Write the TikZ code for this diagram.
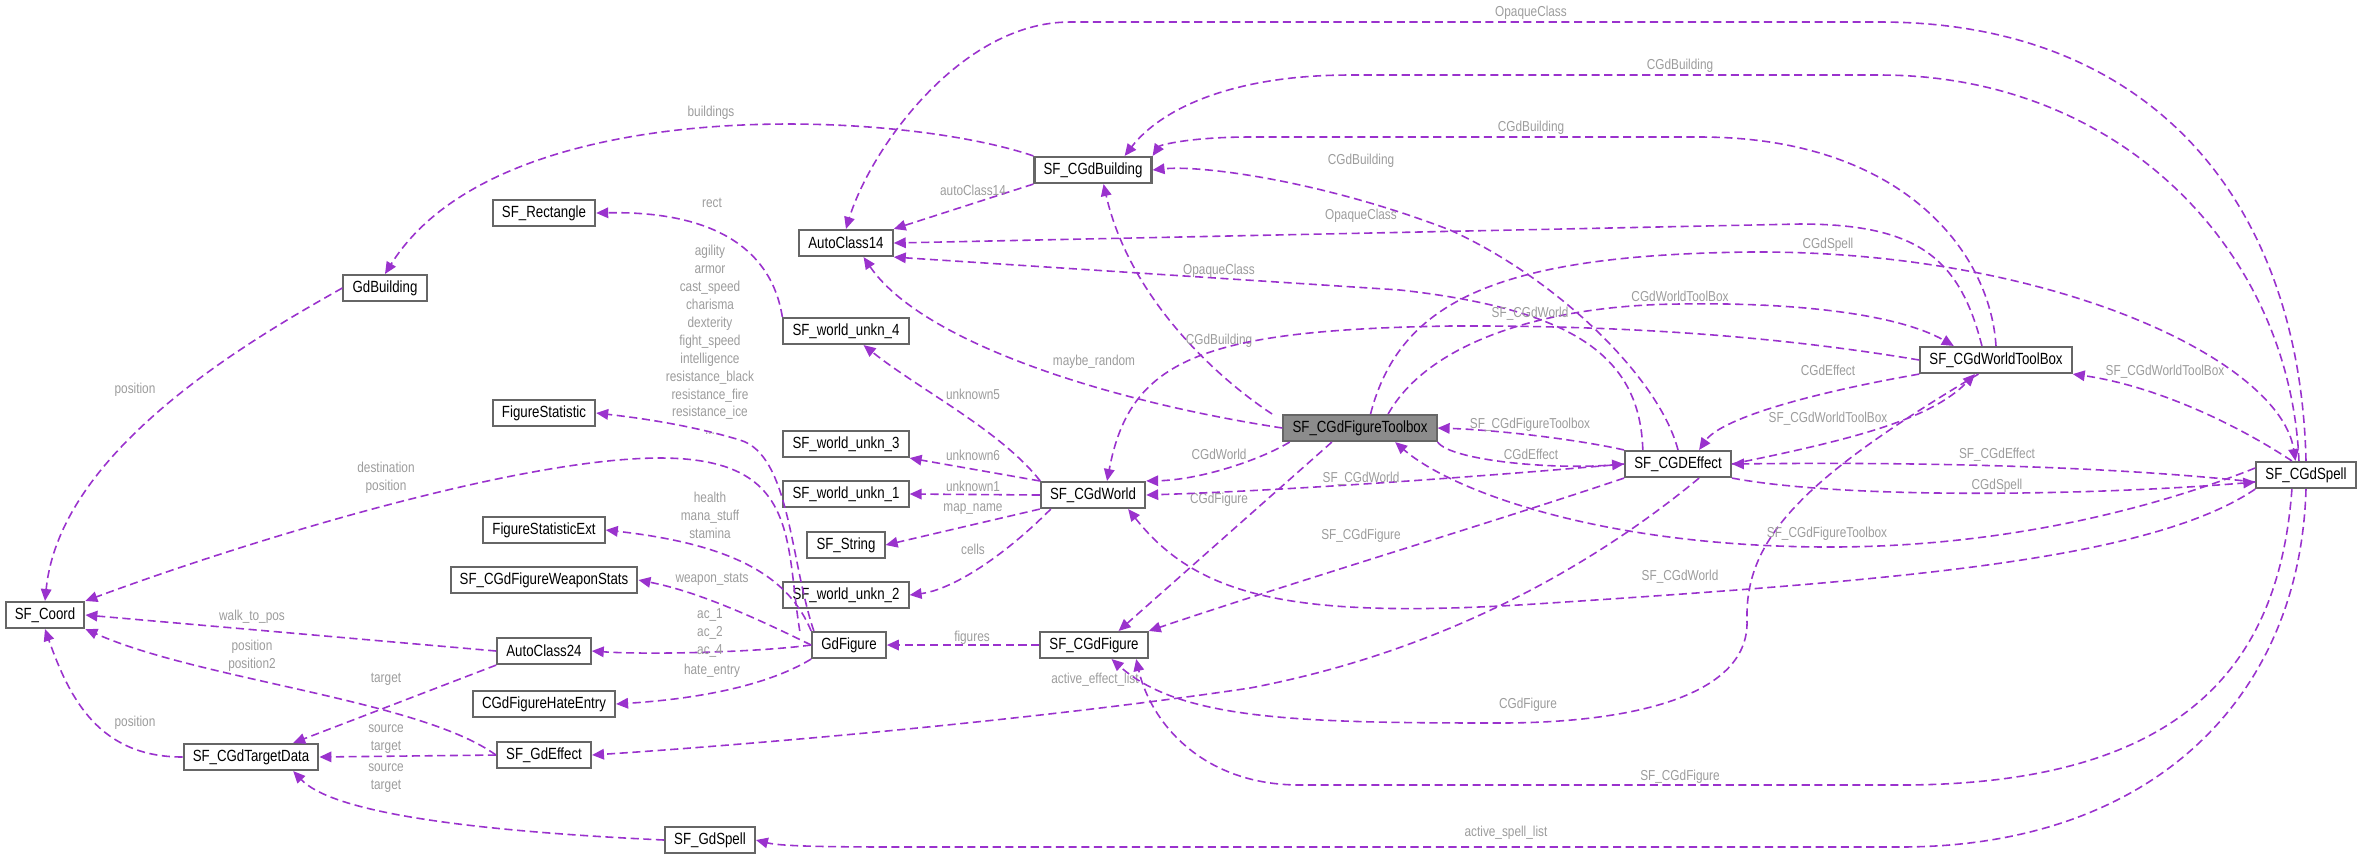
\documentclass[tikz,border=0pt]{standalone}
\usepackage{fontspec}
\setmainfont{Liberation Sans}
\newfontfamily\narrowfont{Liberation Sans}[FakeStretch=0.82]
\usetikzlibrary{arrows.meta}
\definecolor{relcol}{HTML}{9A32CD}
\definecolor{lblcol}{HTML}{9C9C9C}
\begin{document}
\begin{tikzpicture}[x=0.01cm,y=-0.01cm,>={Stealth[length=3.4pt,width=3pt,inset=0pt]},
  class/.style={rectangle,draw=black!60,line width=0.6pt,fill=white,inner xsep=2.6pt,inner ysep=0pt,minimum height=0.26cm,font=\narrowfont\fontsize{4.6}{5}\selectfont},
  rel/.style={->,draw=relcol,line width=0.45pt,dash pattern=on 2.3pt off 1.3pt},
  lbl/.style={text=lblcol,font=\narrowfont\fontsize{4.1}{5.1}\selectfont,align=center,inner sep=0pt}]
\useasboundingbox (0,0) rectangle (2362,859);
% classes
\node[class] (coord)   at (45,615)   {SF\_Coord};
\node[class] (tgt)     at (251,757)  {SF\_CGdTargetData};
\node[class] (gdbld)   at (385,288)  {GdBuilding};
\node[class] (rect)    at (544,213)  {SF\_Rectangle};
\node[class] (fstat)   at (544,413)  {FigureStatistic};
\node[class] (fstatx)  at (544,530)  {FigureStatisticExt};
\node[class] (wstats)  at (544,580)  {SF\_CGdFigureWeaponStats};
\node[class] (ac24)    at (544,651)  {AutoClass24};
\node[class] (hate)    at (544,704)  {CGdFigureHateEntry};
\node[class] (gdeff)   at (544,755)  {SF\_GdEffect};
\node[class] (gdspell) at (710,840)  {SF\_GdSpell};
\node[class] (ac14)    at (846,243)  {AutoClass14};
\node[class] (unkn4)   at (846,331)  {SF\_world\_unkn\_4};
\node[class] (unkn3)   at (846,444)  {SF\_world\_unkn\_3};
\node[class] (unkn1)   at (846,494)  {SF\_world\_unkn\_1};
\node[class] (sfstr)   at (846,545)  {SF\_String};
\node[class] (unkn2)   at (846,595)  {SF\_world\_unkn\_2};
\node[class] (gdfig)   at (849,645)  {GdFigure};
\node[class] (bld)     at (1093,170) {SF\_CGdBuilding};
\node[class] (world)   at (1093,495) {SF\_CGdWorld};
\node[class] (fig)     at (1094,645) {SF\_CGdFigure};
\node[class,fill=black!45] (ftb) at (1360,428) {SF\_CGdFigureToolbox};
\node[class] (eff)     at (1678,464) {SF\_CGDEffect};
\node[class] (wtb)     at (1996,360) {SF\_CGdWorldToolBox};
\node[class] (spell)   at (2306,475) {SF\_CGdSpell};
% left part
\draw[rel] (gdbld.west) .. controls (250,340) and (60,450) .. (coord.north) node[lbl,at={(135,390)}] {position};
\draw[rel] (bld.north west) .. controls (900,110) and (500,90) .. (gdbld.north) node[lbl,at={(711,113)}] {buildings};
\draw[rel] (bld.south west) -- (ac14.north east) node[lbl,at={(973,190)}] {autoClass14};
\draw[rel] (unkn4.north west) .. controls (770,240) and (700,211) .. (rect.east) node[lbl,at={(712,203)}] {rect};
\draw[rel] ([xshift=-10pt]gdfig.north) .. controls (790,560) and (790,455) .. (740,440) .. controls (690,425) and (640,418) .. (fstat.east)
  node[lbl,at={(710,340)}] {agility\\armor\\cast\_speed\\charisma\\dexterity\\fight\_speed\\intelligence\\resistance\_black\\resistance\_fire\\resistance\_ice\\...};
\draw[rel] ([xshift=-14pt]gdfig.north) .. controls (785,540) and (800,458) .. (660,458) .. controls (520,458) and (250,540) .. (coord.north east) node[lbl,at={(386,478)}] {destination\\position};
\draw[rel] (gdfig.north west) .. controls (790,580) and (740,545) .. (fstatx.east) node[lbl,at={(710,515)}] {health\\mana\_stuff\\stamina};
\draw[rel] (gdfig.west) .. controls (760,620) and (700,592) .. (wstats.east) node[lbl,at={(712,579)}] {weapon\_stats};
\draw[rel] (gdfig.west) .. controls (760,652) and (650,655) .. (ac24.east) node[lbl,at={(710,633)}] {ac\_1\\ac\_2\\ac\_4};
\draw[rel] (gdfig.south west) .. controls (760,690) and (680,700) .. (hate.east) node[lbl,at={(712,671)}] {hate\_entry};
\draw[rel] (ac24.west) -- (coord.east) node[lbl,at={(252,617)}] {walk\_to\_pos};
\draw[rel] (ac24.south west) -- ([xshift=12pt]tgt.north) node[lbl,at={(386,679)}] {target};
\draw[rel] (gdeff.west) .. controls (420,700) and (200,680) .. (coord.south east) node[lbl,at={(252,656)}] {position\\position2};
\draw[rel] (gdeff.west) -- (tgt.east) node[lbl,at={(386,739)}] {source\\target};
\draw[rel] (tgt.west) .. controls (100,757) and (70,700) .. (coord.south) node[lbl,at={(135,723)}] {position};
\draw[rel] (gdspell.west) .. controls (450,830) and (330,810) .. ([xshift=12pt]tgt.south) node[lbl,at={(386,778)}] {source\\target};
\draw[rel] (fig.west) -- (gdfig.east) node[lbl,at={(972,638)}] {figures};
% world
\draw[rel] ([xshift=-15pt]world.north) .. controls (1000,430) and (920,390) .. ([xshift=5pt]unkn4.south) node[lbl,at={(973,394)}] {unknown5};
\draw[rel] (world.north west) -- (unkn3.south east) node[lbl,at={(973,455)}] {unknown6};
\draw[rel] (world.west) -- (unkn1.east) node[lbl,at={(973,486)}] {unknown1};
\draw[rel] (world.south west) -- (sfstr.east) node[lbl,at={(973,509)}] {map\_name};
\draw[rel] ([xshift=-12pt]world.south) .. controls (1000,560) and (950,590) .. (unkn2.east) node[lbl,at={(973,549)}] {cells};
% figure toolbox
\draw[rel] (ftb.west) .. controls (1100,400) and (920,340) .. ([xshift=5pt]ac14.south) node[lbl,at={(1094,362)}] {maybe\_random};
\draw[rel] ([xshift=-25pt]ftb.north) .. controls (1220,380) and (1130,300) .. ([xshift=3pt]bld.south) node[lbl,at={(1219,341)}] {CGdBuilding};
\draw[rel] ([xshift=-20pt]ftb.south) .. controls (1260,460) and (1200,480) .. (world.north east) node[lbl,at={(1219,454)}] {CGdWorld};
\draw[rel] ([xshift=-8pt]ftb.south) -- ([xshift=7pt]fig.north) node[lbl,at={(1219,500)}] {CGdFigure};
\draw[rel] ([xshift=8pt]ftb.north) .. controls (1430,340) and (1550,305) .. (1680,304) .. controls (1800,302) and (1900,315) .. ([xshift=-12pt]wtb.north) node[lbl,at={(1680,296)}] {CGdWorldToolBox};
\draw[rel] ([xshift=3pt]ftb.north) .. controls (1400,300) and (1500,255) .. (1750,252) .. controls (2050,250) and (2280,360) .. ([xshift=-3pt]spell.north) node[lbl,at={(1828,245)}] {CGdSpell};
\draw[rel] (ftb.south east) .. controls (1450,460) and (1550,470) .. (eff.west) node[lbl,at={(1531,454)}] {CGdEffect};
% effect
\draw[rel] (eff.north west) .. controls (1580,440) and (1500,430) .. (ftb.east) node[lbl,at={(1530,425)}] {SF\_CGdFigureToolbox};
\draw[rel] (eff.west) .. controls (1500,475) and (1300,490) .. (world.east) node[lbl,at={(1361,479)}] {SF\_CGdWorld};
\draw[rel] (eff.south west) .. controls (1500,520) and (1300,580) .. (fig.north east) node[lbl,at={(1361,536)}] {SF\_CGdFigure};
\draw[rel] (eff.north) .. controls (1660,380) and (1560,280) .. (1450,230) .. controls (1320,180) and (1200,165) .. (bld.east) node[lbl,at={(1361,161)}] {CGdBuilding};
\draw[rel] ([xshift=-10pt]eff.north) .. controls (1640,360) and (1580,310) .. (1400,290) -- (ac14.south east) node[lbl,at={(1219,271)}] {OpaqueClass};
\draw[rel] ([xshift=6pt]eff.south) .. controls (1600,560) and (1450,650) .. (1250,688) .. controls (1000,725) and (700,748) .. (gdeff.east) node[lbl,at={(1095,680)}] {active\_effect\_list};
\draw[rel] (eff.east) .. controls (1850,440) and (1930,420) .. ([xshift=-6pt]wtb.south) node[lbl,at={(1828,419)}] {SF\_CGdWorldToolBox};
\draw[rel] (eff.south east) .. controls (1850,500) and (2100,495) .. ([yshift=-2pt]spell.west) node[lbl,at={(1997,486)}] {CGdSpell};
% world toolbox
\draw[rel] (wtb.south west) .. controls (1800,395) and (1720,420) .. ([xshift=6pt]eff.north) node[lbl,at={(1828,370)}] {CGdEffect};
\draw[rel] (wtb.north) .. controls (1990,250) and (1900,137) .. (1700,137) -- (1250,137) .. controls (1190,137) and (1160,145) .. (bld.north east) node[lbl,at={(1531,128)}] {CGdBuilding};
\draw[rel] ([xshift=-4pt]wtb.north) .. controls (1960,260) and (1920,224) .. (1800,224) -- (ac14.east) node[lbl,at={(1361,216)}] {OpaqueClass};
\draw[rel] (wtb.west) .. controls (1800,340) and (1650,325) .. (1450,326) .. controls (1200,330) and (1130,360) .. ([xshift=4pt]world.north) node[lbl,at={(1530,314)}] {SF\_CGdWorld};
\draw[rel] ([xshift=-5pt]wtb.south) .. controls (1800,480) and (1745,540) .. (1747,620) .. controls (1750,700) and (1620,723) .. (1500,723) .. controls (1300,723) and (1180,720) .. ([xshift=5pt]fig.south) node[lbl,at={(1528,705)}] {CGdFigure};
% spell
\draw[rel] (spell.north) .. controls (2300,200) and (2150,22) .. (1880,22) -- (1070,22) .. controls (960,22) and (870,150) .. (ac14.north) node[lbl,at={(1531,13)}] {OpaqueClass};
\draw[rel] ([xshift=-2pt]spell.north) .. controls (2290,250) and (2120,75) .. (1880,75) -- (1350,75) .. controls (1230,75) and (1160,110) .. ([xshift=9pt]bld.north) node[lbl,at={(1680,66)}] {CGdBuilding};
\draw[rel] ([xshift=-4pt]spell.north) .. controls (2230,420) and (2150,385) .. (wtb.south east) node[lbl,at={(2165,372)}] {SF\_CGdWorldToolBox};
\draw[rel] ([yshift=-2pt]spell.west) .. controls (2100,465) and (1900,462) .. (eff.east) node[lbl,at={(1997,455)}] {SF\_CGdEffect};
\draw[rel] ([yshift=2pt]spell.west) .. controls (2150,510) and (2000,547) .. (1830,547) .. controls (1600,547) and (1450,490) .. ([xshift=10pt]ftb.south) node[lbl,at={(1827,534)}] {SF\_CGdFigureToolbox};
\draw[rel] (spell.south west) .. controls (2150,560) and (1900,580) .. (1550,603) .. controls (1300,620) and (1200,600) .. ([xshift=10pt]world.south) node[lbl,at={(1680,577)}] {SF\_CGdWorld};
\draw[rel] ([xshift=-4pt]spell.south) .. controls (2280,650) and (2200,785) .. (1900,785) -- (1300,785) .. controls (1200,785) and (1150,720) .. ([xshift=12pt]fig.south) node[lbl,at={(1680,777)}] {SF\_CGdFigure};
\draw[rel] (spell.south) .. controls (2300,700) and (2150,847) .. (1900,847) -- (900,847) .. controls (820,847) and (780,846) .. (gdspell.east) node[lbl,at={(1506,833)}] {active\_spell\_list};
\end{tikzpicture}
\end{document}
